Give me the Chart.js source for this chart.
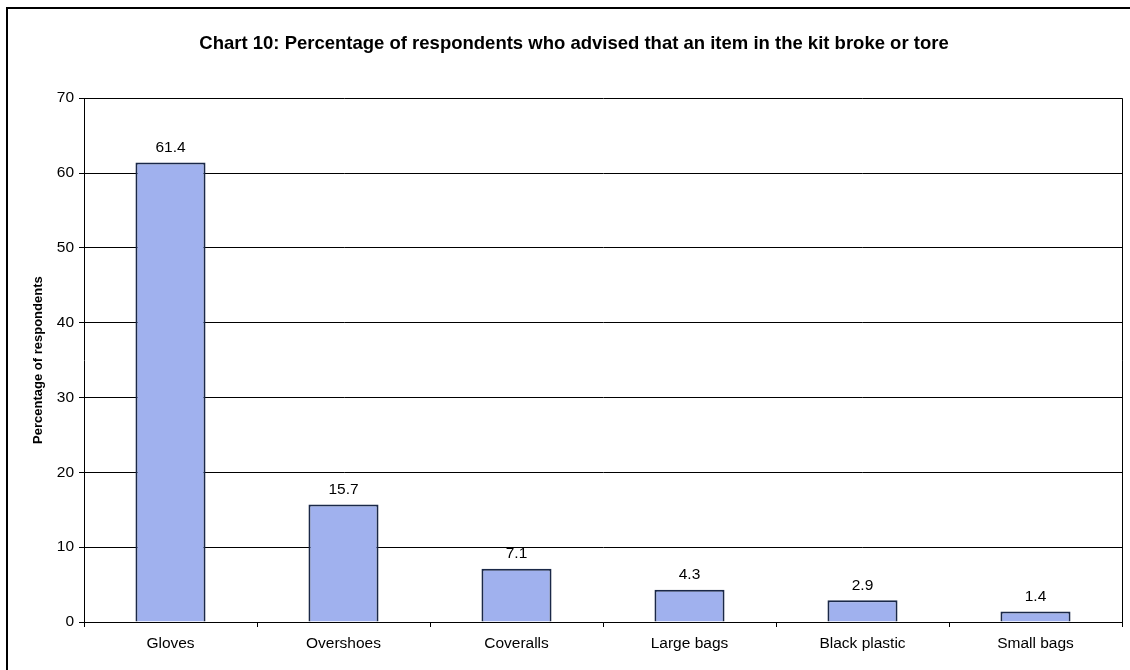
<!DOCTYPE html>
<html>
<head>
<meta charset="utf-8">
<script src="https://cdn.jsdelivr.net/npm/chart.js@4.4.0/dist/chart.umd.min.js"></script>
<style>
  html, body { margin: 0; padding: 0; background: #fff; }
  #wrap { width: 1130px; height: 670px; position: relative; }
</style>
</head>
<body>
<div id="wrap"><canvas id="chart10" width="1130" height="670"></canvas></div>
<script>
// Data for Chart 10
const items = ['Gloves', 'Overshoes', 'Coveralls', 'Large bags', 'Black plastic', 'Small bags'];
const brokePct = [61.4, 15.7, 7.1, 4.3, 2.9, 1.4];
const yTicks = [0, 10, 20, 30, 40, 50, 60, 70];

const fontName = '"Liberation Sans", Arial, sans-serif';

// Value labels above the bars + plot border + outer frame
const extras = {
    id: 'extras',
    afterDatasetsDraw(chart) {
        const ctx = chart.ctx;
        const meta = chart.getDatasetMeta(0);
        ctx.save();
        ctx.font = '15.5px ' + fontName;
        ctx.fillStyle = '#000';
        ctx.textAlign = 'center';
        ctx.textBaseline = 'bottom';
        meta.data.forEach((bar, i) => {
            ctx.fillText(String(brokePct[i]), bar.x, bar.y - 7);
        });
        const a = chart.chartArea;
        ctx.strokeStyle = '#000';
        ctx.lineWidth = 1;
        ctx.beginPath();
        ctx.moveTo(Math.round(a.right) + 0.5, a.top);
        ctx.lineTo(Math.round(a.right) + 0.5, a.bottom);
        ctx.stroke();
        // outer frame (top and left edges visible)
        ctx.lineWidth = 2;
        ctx.beginPath();
        ctx.moveTo(7, chart.height);
        ctx.lineTo(7, 8);
        ctx.lineTo(chart.width, 8);
        ctx.stroke();
        ctx.restore();
    }
};

new Chart(document.getElementById('chart10').getContext('2d'), {
    type: 'bar',
    data: {
        labels: items,
        datasets: [{
            label: 'Percentage of respondents',
            data: brokePct,
            backgroundColor: '#a0b1ee',
            borderColor: '#1a2848',
            borderWidth: 2,
            barPercentage: 0.405,
            categoryPercentage: 1
        }]
    },
    options: {
        responsive: false,
        animation: false,
        layout: { padding: { left: 26, right: 8, top: 0, bottom: 0 } },
        plugins: {
            legend: { display: false },
            tooltip: { enabled: false },
            title: {
                display: true,
                text: 'Chart 10: Percentage of respondents who advised that an item in the kit broke or tore',
                color: '#000',
                font: { family: fontName, size: 18.5, weight: 'bold' },
                padding: { top: 33, bottom: 43 }
            }
        },
        scales: {
            x: {
                grid: { offset: true, drawOnChartArea: false, color: '#000', tickLength: 5, tickColor: '#000' },
                border: { color: '#000', width: 1 },
                ticks: { color: '#000', font: { family: fontName, size: 15.5 }, padding: 7, maxRotation: 0 },
                afterFit(scale) { scale.height = 48; }
            },
            y: {
                min: 0,
                max: 70,
                afterBuildTicks(scale) { scale.ticks = yTicks.map(v => ({ value: v })); },
                grid: { color: '#000', lineWidth: 1, tickLength: 5, tickColor: '#000' },
                border: { color: '#000', width: 1 },
                ticks: { color: '#000', font: { family: fontName, size: 15.5 }, padding: 5 },
                title: {
                    display: true,
                    text: 'Percentage of respondents',
                    color: '#000',
                    font: { family: fontName, size: 13, weight: 'bold' },
                    padding: { top: 5, bottom: 0 }
                },
                afterFit(scale) { scale.width = 58; }
            }
        }
    },
    plugins: [extras]
});
</script>
</body>
</html>
